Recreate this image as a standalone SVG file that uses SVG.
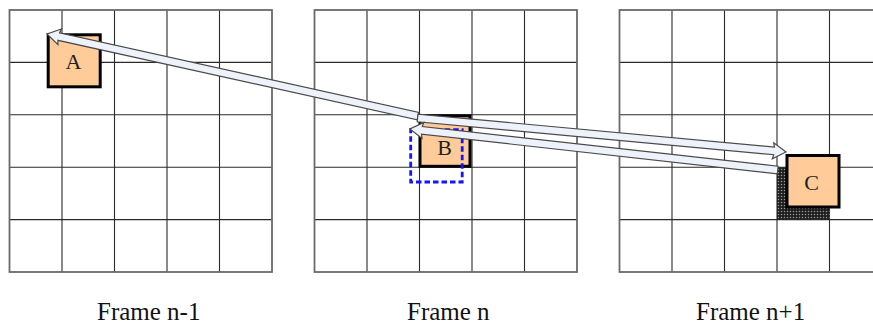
<svg xmlns="http://www.w3.org/2000/svg" width="873" height="326" viewBox="0 0 873 326">
<style>
.outer{fill:none;stroke:#6a6a6a;stroke-width:1.8}
.inner{stroke:#2a2a2a;stroke-width:1.1}
.blk{fill:#ffcc99;stroke:#000;stroke-width:3}
.lbl{font-family:"Liberation Serif","Times New Roman",serif;font-size:22px;fill:#222;text-anchor:middle}
.cap{font-family:"Liberation Serif","Times New Roman",serif;font-size:25px;fill:#111}
.arr{fill:#eef2fa;stroke:#4a4a4a;stroke-width:1.2;stroke-linejoin:miter}
.dash{fill:none;stroke:#1414ff;stroke-width:2.8;stroke-dasharray:5.5 3}
</style>
<defs>
<pattern id="dots" width="3" height="3" patternUnits="userSpaceOnUse">
<rect width="3" height="3" fill="#1e1e1e"/>
<circle cx="1.5" cy="1.5" r="0.75" fill="#9a9a9a"/>
</pattern>
<g id="grid">
<path class="inner" d="M52.5 0V262M105 0V262M157.5 0V262M210 0V262M0 52.4H262.5M0 104.8H262.5M0 157.2H262.5M0 209.6H262.5"/>
<rect class="outer" x="0" y="0" width="262.5" height="262"/>
</g>
</defs>
<rect width="873" height="326" fill="#fff"/>
<g id="frame-n-1">
<use href="#grid" x="9.5" y="10"/>
<text class="cap" x="97" y="319.5">Frame n-1</text>
</g>
<g id="frame-n">
<use href="#grid" x="314.5" y="10"/>
<text class="cap" x="407" y="319.5">Frame n</text>
</g>
<g id="frame-n+1">
<use href="#grid" x="619.5" y="10"/>
<text class="cap" x="696" y="319.5">Frame n+1</text>
</g>
<g id="block-A">
<rect class="blk" x="48.2" y="34.8" width="52" height="52"/>
<text class="lbl" x="73.5" y="68.5">A</text>
</g>
<g id="block-B">
<rect class="blk" x="420" y="115.8" width="50" height="50.5"/>
<text class="lbl" x="444.5" y="154.5">B</text>
</g>
<g id="block-B-search">
<rect class="dash" x="410.7" y="129.7" width="51.5" height="52.3"/>
</g>
<g id="block-C">
<rect x="777" y="167.2" width="52.5" height="52.4" fill="url(#dots)"/>
<rect class="blk" x="787" y="155.5" width="52" height="51.5"/>
<text class="lbl" x="811.5" y="189.5">C</text>
</g>
<g id="connectors">
<g transform="translate(47 34) rotate(192.47)">
<polygon class="arr" points="0,0 -13,-8 -12,-3.8 -380,-3.8 -380,3.8 -12,3.8 -13,8"/>
</g>
<g transform="translate(786 152) rotate(5.28)">
<polygon class="arr" points="0,0 -13,-8 -12,-3.8 -370,-3.8 -370,3.8 -12,3.8 -13,8"/>
</g>
<g transform="translate(410 129) rotate(186.36)">
<polygon class="arr" points="0,0 -13,-8 -12,-3.8 -370,-3.8 -370,3.8 -12,3.8 -13,8"/>
</g>
</g>
</svg>
